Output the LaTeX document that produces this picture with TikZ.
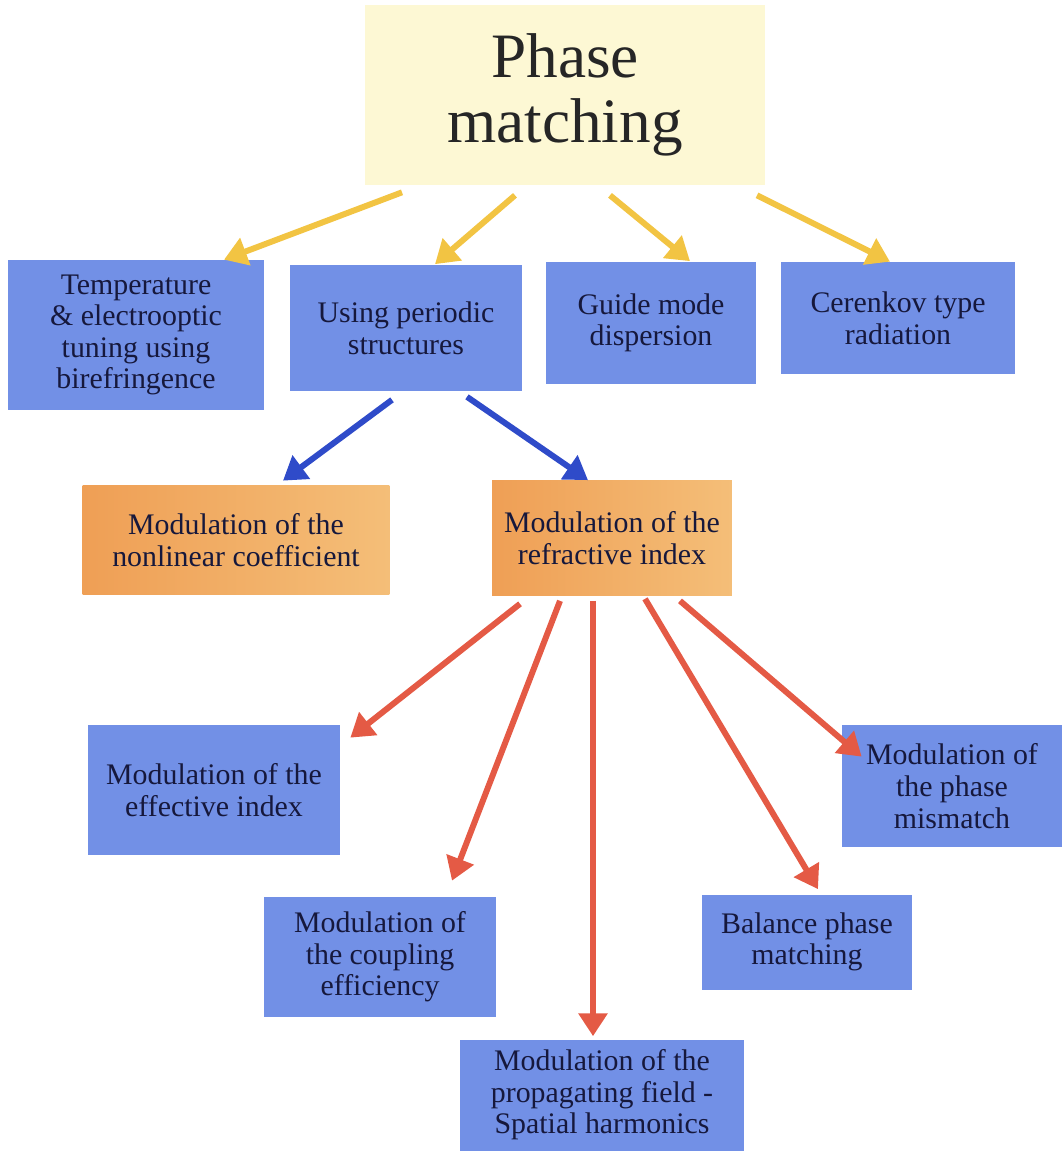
\documentclass[tikz,border=0pt]{standalone}
\usepackage{fontspec}
\setmainfont{Liberation Serif}
\usetikzlibrary{arrows.meta, calc}
\definecolor{boxblue}{HTML}{7290E6}
\definecolor{boxtext}{HTML}{16183C}
\definecolor{topfill}{HTML}{FDF8D4}
\definecolor{orangeA}{HTML}{EF9F55}
\definecolor{orangeB}{HTML}{F4BE78}
\definecolor{arryellow}{HTML}{F2C443}
\definecolor{arrblue}{HTML}{2F4BC9}
\definecolor{arrred}{HTML}{E45A45}
\tikzset{
  topbox/.style={rectangle, fill=topfill, inner sep=0pt, align=center,
                 text=black!85, font=\fontsize{36}{37}\selectfont},
  bbox/.style={rectangle, fill=boxblue, inner sep=0pt, align=center,
               text=boxtext, font=\fontsize{17}{18}\selectfont},
  obox/.style={rectangle, left color=orangeA, right color=orangeB,
               inner sep=0pt, align=center,
               text=boxtext, font=\fontsize{17}{18}\selectfont},
  arr/.style={-{Triangle[length=13pt, width=16pt]}, line width=3.4pt, draw=#1},
  arr/.default=arrred,
}
\begin{document}
\begin{tikzpicture}[x=0.02cm, y=-0.02cm]
\useasboundingbox (0,0) rectangle (1062,1151);
% top level
\node[topbox, minimum width=8cm, minimum height=3.6cm] (pm) at (565,95)
  {Phase\\matching};
% first row
\node[bbox, minimum width=5.14cm, minimum height=3cm] (temp) at (136,335)
  {Temperature\\\& electrooptic\\tuning using\\birefringence};
\node[bbox, minimum width=4.66cm, minimum height=2.54cm] (periodic) at (406,328)
  {Using periodic\\structures};
\node[bbox, minimum width=4.22cm, minimum height=2.46cm] (guide) at (651,323)
  {Guide mode\\dispersion};
\node[bbox, minimum width=4.7cm, minimum height=2.24cm] (cerenkov) at (898,318)
  {Cerenkov type\\radiation};
% second row
\node[obox, minimum width=6.14cm, minimum height=2.2cm] (nonlin) at (236,540)
  {Modulation of the\\nonlinear coefficient};
\node[obox, minimum width=4.8cm, minimum height=2.3cm] (refr) at (612,538)
  {Modulation of the\\refractive index};
% third level
\node[bbox, minimum width=5.04cm, minimum height=2.6cm] (effidx) at (214,790)
  {Modulation of the\\effective index};
\node[bbox, minimum width=4.4cm, minimum height=2.44cm] (mismatch) at (952,786)
  {Modulation of\\the phase\\mismatch};
\node[bbox, minimum width=4.66cm, minimum height=2.4cm] (coupling) at (380,957)
  {Modulation of\\the coupling\\efficiency};
\node[bbox, minimum width=4.22cm, minimum height=1.9cm] (balance) at (807,942)
  {Balance phase\\matching};
\node[bbox, minimum width=5.7cm, minimum height=2.22cm] (propag) at (602,1095)
  {Modulation of the\\propagating field -\\Spatial harmonics};
% connectors
\draw[arr=arryellow] ($(pm.south)+(-163,7)$) -- ($(temp.north)+(88,0)$);
\draw[arr=arryellow] ($(pm.south)+(-50,10)$) -- ($(periodic.north)+(29,0)$);
\draw[arr=arryellow] ($(pm.south)+(45,10)$) -- ($(guide.north)+(39,0)$);
\draw[arr=arryellow] ($(pm.south)+(192,10)$) -- ($(cerenkov.north)+(-8,0)$);
\draw[arr=arrblue] ($(periodic.south)+(-14,8)$) -- ($(nonlin.north)+(47,-4)$);
\draw[arr=arrblue] ($(periodic.south)+(61,5)$) -- ($(refr.north)+(-24,0)$);
\draw[arr] ($(refr.south)+(-92,8)$) -- ($(effidx.north east)+(10,13)$);
\draw[arr] ($(refr.south)+(-52,5)$) -- ($(coupling.north)+(72,-16)$);
\draw[arr] ($(refr.south)+(-19,5)$) -- ($(propag.north)+(-9,-3)$);
\draw[arr] ($(refr.south)+(33,3)$) -- ($(balance.north)+(11,-5)$);
\draw[arr] ($(refr.south)+(68,5)$) -- ($(mismatch.north west)+(20,32)$);
\end{tikzpicture}
\end{document}
